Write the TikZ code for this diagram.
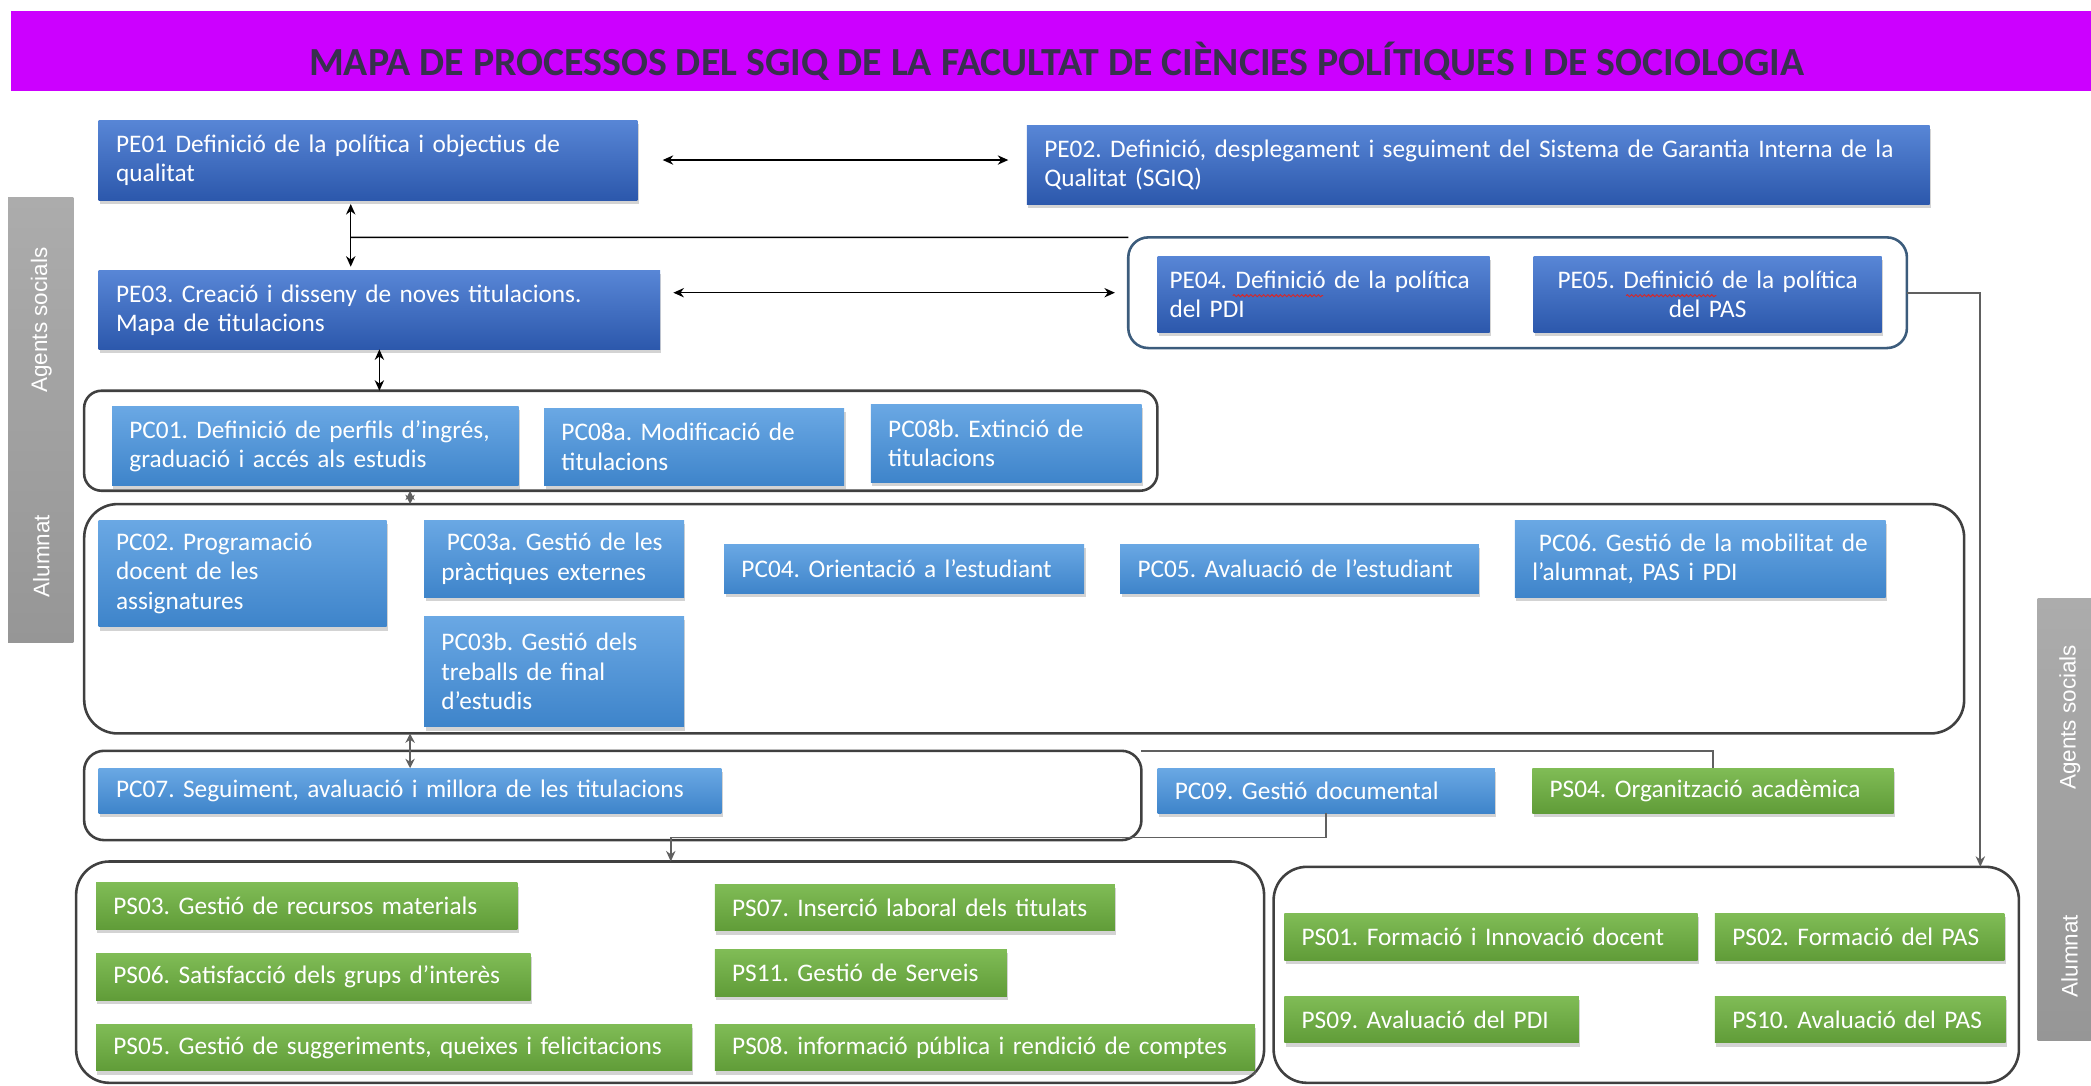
\documentclass[tikz,border=0pt]{standalone}
\usepackage{fontspec}
\setmainfont{Carlito}
\newfontfamily\sidefont{Liberation Sans}
\usetikzlibrary{arrows.meta,shadows,decorations.pathmorphing}
\frenchspacing

\definecolor{bandmagenta}{RGB}{204,0,255}
\definecolor{titleink}{RGB}{56,48,78}
\definecolor{peTop}{RGB}{88,134,214}
\definecolor{peBot}{RGB}{44,88,172}
\definecolor{pcTop}{RGB}{106,168,228}
\definecolor{pcBot}{RGB}{62,132,202}
\definecolor{psTop}{RGB}{128,188,86}
\definecolor{psBot}{RGB}{96,156,56}
\definecolor{frame}{RGB}{64,64,64}
\definecolor{peframe}{RGB}{60,92,124}
\definecolor{barTop}{RGB}{172,172,172}
\definecolor{barBot}{RGB}{150,150,150}
\definecolor{linkgray}{RGB}{96,96,96}
\definecolor{spellred}{RGB}{215,40,40}

\newcommand\boxfont{\fontsize{10.8}{12.5}\selectfont}
\newlength\spellskip
\newlength\spellword
\newlength\spellline

\tikzset{
  proc/.style={text=white, inner xsep=0.26cm, inner ysep=0pt, outer sep=0pt,
    align=left, font=\boxfont,
    drop shadow={shadow xshift=0.6pt, shadow yshift=-1.6pt, opacity=0.35}},
  pebox/.style={proc, top color=peTop, bottom color=peBot},
  pcbox/.style={proc, top color=pcTop, bottom color=pcBot},
  psbox/.style={proc, top color=psTop, bottom color=psBot},
  group/.style={draw=frame, line width=1.1pt, inner sep=0pt, outer sep=0pt},
  sidebar/.style={top color=barTop, bottom color=barBot, inner sep=0pt, outer sep=0pt},
  sidelabel/.style={text=white, rotate=90, font=\sidefont\fontsize{9.6}{11}\selectfont},
  dblarrow/.style={{Stealth[length=4.5pt,width=4pt]}-{Stealth[length=4.5pt,width=4pt]}, line width=0.6pt},
  graydbl/.style={{Stealth[length=4pt,width=4pt]}-{Stealth[length=4pt,width=4pt]}, draw=linkgray, line width=0.8pt},
  grayarrow/.style={-{Stealth[length=4.5pt,width=4pt]}, draw=linkgray, line width=0.8pt},
  link/.style={draw=linkgray, line width=0.8pt},
  spelling/.style={draw=spellred, line width=0.4pt, decorate,
    decoration={snake, amplitude=0.45pt, segment length=1.8pt}}
}

\begin{document}
\settowidth{\spellskip}{\boxfont PE04. }
\settowidth{\spellword}{\boxfont Definició}
\settowidth{\spellline}{\boxfont PE05. Definició de la política}
\begin{tikzpicture}[x=0.02cm, y=-0.02cm]
  \useasboundingbox (0,0) rectangle (1568,814);

  \node[fill=bandmagenta, minimum width=31.2cm, minimum height=1.2cm, inner sep=0pt] (band) at (788,38) {};
  \node[text=titleink, font=\fontsize{17}{20}\selectfont\bfseries] (title) at (792.5,46)
    {MAPA DE PROCESSOS DEL SGIQ DE LA FACULTAT DE CIÈNCIES POLÍTIQUES I DE SOCIOLOGIA};

  \node[sidebar, minimum width=0.98cm, minimum height=6.68cm] (leftbar) at (30.5,315) {};
  \node[sidebar, minimum width=0.8cm, minimum height=6.62cm] (rightbar) at (1548,614.5) {};
  \node[sidelabel] (leftagents) at (31,240) {Agents socials};
  \node[sidelabel] (leftalumnat) at (31,417) {Alumnat};
  \node[sidelabel] (rightagents) at (1552,538) {Agents socials};
  \node[sidelabel] (rightalumnat) at (1552,717) {Alumnat};

  \begin{scope}[every node/.style={group}]
    \node[draw=peframe, rounded corners=0.3cm, minimum width=11.68cm, minimum height=1.66cm] (pegroup) at (1138,219.5) {};
    \node[rounded corners=0.26cm, minimum width=16.1cm, minimum height=1.5cm] (pcgroupA) at (465.5,330.5) {};
    \node[rounded corners=0.5cm, minimum width=28.2cm, minimum height=3.44cm] (pcgroupB) at (768,464) {};
    \node[rounded corners=0.3cm, minimum width=15.86cm, minimum height=1.34cm] (pcgroupC) at (459.5,596.5) {};
    \node[rounded corners=0.5cm, minimum width=17.82cm, minimum height=3.32cm] (psgroupA) at (502.5,729) {};
    \node[rounded corners=0.5cm, minimum width=11.18cm, minimum height=3.24cm] (psgroupB) at (1234.5,731) {};
  \end{scope}

  \begin{scope}[every node/.style={pebox}]
    \node[text width=7.56cm, minimum height=1.2cm] (pe01) at (276,120)
      {PE01 Definició de la política i objectius de\\qualitat};
    \node[text width=13.02cm, minimum height=1.18cm] (pe02) at (1108.5,123.5)
      {PE02. Definició, desplegament i seguiment del Sistema de Garantia Interna de la\\Qualitat (SGIQ)};
    \node[text width=7.9cm, minimum height=1.18cm] (pe03) at (284.5,232.5)
      {PE03. Creació i disseny de noves titulacions.\\Mapa de titulacions};
    \node[text width=4.62cm, inner xsep=0.18cm, minimum height=1.14cm] (pe04) at (992.5,220.5)
      {PE04. Definició de la política\\del PDI};
    \node[text width=4.7cm, minimum height=1.14cm, align=center] (pe05) at (1280.5,220.5)
      {PE05. Definició de la política\\del PAS};
  \end{scope}

  \begin{scope}[every node/.style={pcbox}]
    \node[text width=5.58cm, minimum height=1.18cm] (pc01) at (236.5,334.5)
      {PC01. Definició de perfils d’ingrés,\\graduació i accés als estudis};
    \node[text width=3.98cm, minimum height=1.16cm] (pc08a) at (520.5,335)
      {PC08a. Modificació de\\titulacions};
    \node[text width=3.54cm, minimum height=1.18cm] (pc08b) at (754.5,332.5)
      {PC08b. Extinció de\\titulacions};
    \node[text width=3.8cm, minimum height=1.6cm] (pc02) at (182,430)
      {PC02. Programació\\docent de les\\assignatures};
    \node[text width=3.38cm, minimum height=1.16cm] (pc03a) at (415.5,419)
      {\hspace{0.08cm}PC03a. Gestió de les\\pràctiques externes};
    \node[text width=3.38cm, minimum height=1.66cm] (pc03b) at (415.5,503.5)
      {PC03b. Gestió dels\\treballs de final\\d’estudis};
    \node[text width=4.88cm, minimum height=0.74cm] (pc04) at (678,426.5)
      {PC04. Orientació a l’estudiant};
    \node[text width=4.86cm, minimum height=0.74cm] (pc05) at (974.5,426.5)
      {PC05. Avaluació de l’estudiant};
    \node[text width=5.04cm, minimum height=1.16cm] (pc06) at (1275,419)
      {\hspace{0.1cm}PC06. Gestió de la mobilitat de\\l’alumnat, PAS i PDI};
    \node[text width=8.82cm, minimum height=0.68cm] (pc07) at (307.5,593)
      {PC07. Seguiment, avaluació i millora de les titulacions};
    \node[text width=4.54cm, minimum height=0.68cm] (pc09) at (994.5,593)
      {PC09. Gestió documental};
  \end{scope}

  \begin{scope}[every node/.style={psbox}]
    \node[text width=4.9cm, minimum height=0.68cm] (ps04) at (1284.5,593)
      {PS04. Organització acadèmica};
    \node[text width=5.8cm, minimum height=0.7cm] (ps03) at (230,679.5)
      {PS03. Gestió de recursos materials};
    \node[text width=6.0cm, minimum height=0.7cm] (ps06) at (235,732.5)
      {PS06. Satisfacció dels grups d’interès};
    \node[text width=8.42cm, minimum height=0.7cm] (ps05) at (295.5,785.5)
      {PS05. Gestió de suggeriments, queixes i felicitacions};
    \node[text width=5.48cm, minimum height=0.7cm] (ps07) at (686,680.5)
      {PS07. Inserció laboral dels titulats};
    \node[text width=3.86cm, minimum height=0.7cm] (ps11) at (645.5,729.5)
      {PS11. Gestió de Serveis};
    \node[text width=7.58cm, minimum height=0.7cm] (ps08) at (738.5,785.5)
      {PS08. informació pública i rendició de comptes};
    \node[text width=5.68cm, minimum height=0.7cm] (ps01) at (1118,702.5)
      {PS01. Formació i Innovació docent};
    \node[text width=3.82cm, minimum height=0.7cm] (ps02) at (1394.5,702.5)
      {PS02. Formació del PAS};
    \node[text width=3.9cm, minimum height=0.7cm] (ps09) at (1073.5,764.5)
      {PS09. Avaluació del PDI};
    \node[text width=3.84cm, minimum height=0.7cm] (ps10) at (1395,764.5)
      {PS10. Avaluació del PAS};
  \end{scope}

  \draw[spelling] ([xshift=0.18cm+\spellskip, yshift=-0.7pt]pe04.west) -- ++(\spellword,0pt);
  \draw[spelling] ([xshift=-0.5\spellline+\spellskip, yshift=-0.7pt]pe05.center) -- ++(\spellword,0pt);

  \coordinate (split) at (263,178);
  \coordinate (psin) at (1485,650);
  \coordinate (psdrop) at (503,628);

  \draw[dblarrow, shorten <=0.38cm, shorten >=0.28cm] (pe01.east) -- (pe02.west |- pe01.east);
  \draw[dblarrow, shorten <=0.06cm, shorten >=0.06cm] ([xshift=-0.26cm]pe01.south) -- ([xshift=-0.26cm]pe01.south |- pe03.north);
  \draw[line width=0.6pt] (split) -- (pegroup.north west);
  \draw[dblarrow, shorten <=0.2cm, shorten >=0.2cm] (pe03.east |- pegroup.west) -- (pegroup.west);
  \draw[dblarrow] (pe03.south) -- (pe03.south |- pcgroupA.north);
  \draw[grayarrow] (pegroup.east) -| (psin);
  \draw[graydbl] (pcgroupA.south -| pc07.north) -- (pcgroupB.north -| pc07.north);
  \draw[graydbl] (pcgroupB.south -| pc07.north) -- (pc07.north);
  \draw[link] (pcgroupC.north east) -| (ps04.north);
  \draw[grayarrow] (pc09.south) |- (psdrop) -- (psdrop |- psgroupA.north);

\end{tikzpicture}
\end{document}
